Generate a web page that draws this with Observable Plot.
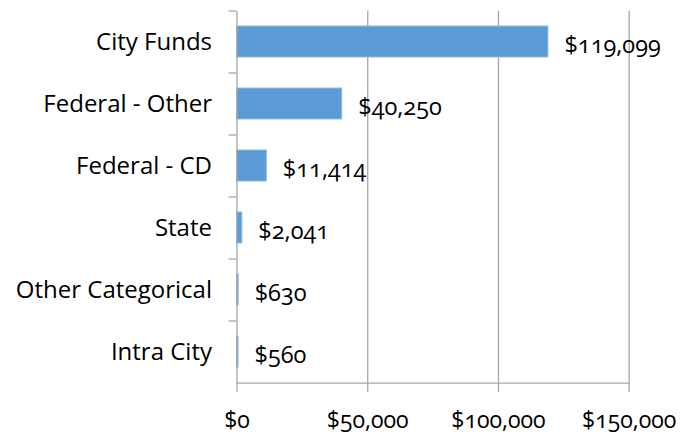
<!DOCTYPE html>
<html>
<head>
<meta charset="utf-8">
<script src="https://cdn.jsdelivr.net/npm/d3@7"></script>
<script src="https://cdn.jsdelivr.net/npm/@observablehq/plot@0.6"></script>
<style>
  html, body { margin: 0; padding: 0; background: #fff; }
  svg, svg text { font-variant-numeric: oldstyle-nums; }
</style>
</head>
<body>
<div id="chart"></div>
<script>
const categories = ["City Funds", "Federal - Other", "Federal - CD", "State", "Other Categorical", "Intra City"];
const values = [119099, 40250, 11414, 2041, 630, 560];
const xTicks = [0, 50000, 100000, 150000];

const data = categories.map((c, i) => ({category: c, value: values[i]}));
const money = d => "$" + d3.format(",")(d);
const grid = "#a6a6a6";

const chart = Plot.plot({
  width: 689,
  height: 434,
  marginLeft: 236.5,
  marginRight: 60.3,
  marginTop: 10.7,
  marginBottom: 51.3,
  style: {fontFamily: "'Open Sans', sans-serif", fontSize: "23px", color: "#000", background: "#fff"},
  x: {domain: [0, 150000]},
  y: {domain: categories, paddingInner: 0.5, paddingOuter: 0.25, align: 0.5},
  marks: [
    Plot.gridX(xTicks.slice(1), {stroke: grid, strokeOpacity: 1, strokeWidth: 1.3}),
    Plot.barX(data, {y: "category", x: "value", fill: "#5b9bd5", stroke: "#8fbbe5", strokeWidth: 1}),
    Plot.ruleX([0], {stroke: grid, strokeWidth: 1.3}),
    Plot.frame({anchor: "bottom", stroke: grid, strokeWidth: 1.3}),
    Plot.ruleY(categories, {y: d => d, x1: 0, x2: 0, insetLeft: -8, dy: -31, stroke: grid, strokeWidth: 1.3}),
    Plot.axisX(xTicks, {tickSize: 9, tickPadding: 19, tickFormat: money, stroke: grid, strokeWidth: 1.3, fontSize: 23, label: null}),
    Plot.axisY({tickSize: 0, tickPadding: 25, fontSize: 24, label: null}),
    Plot.text(data, {y: "category", x: "value", text: d => money(d.value), textAnchor: "start", dx: 16, dy: 3, fontSize: 23.5, fill: "#000"})
  ]
});
document.getElementById("chart").appendChild(chart);
</script>
</body>
</html>
